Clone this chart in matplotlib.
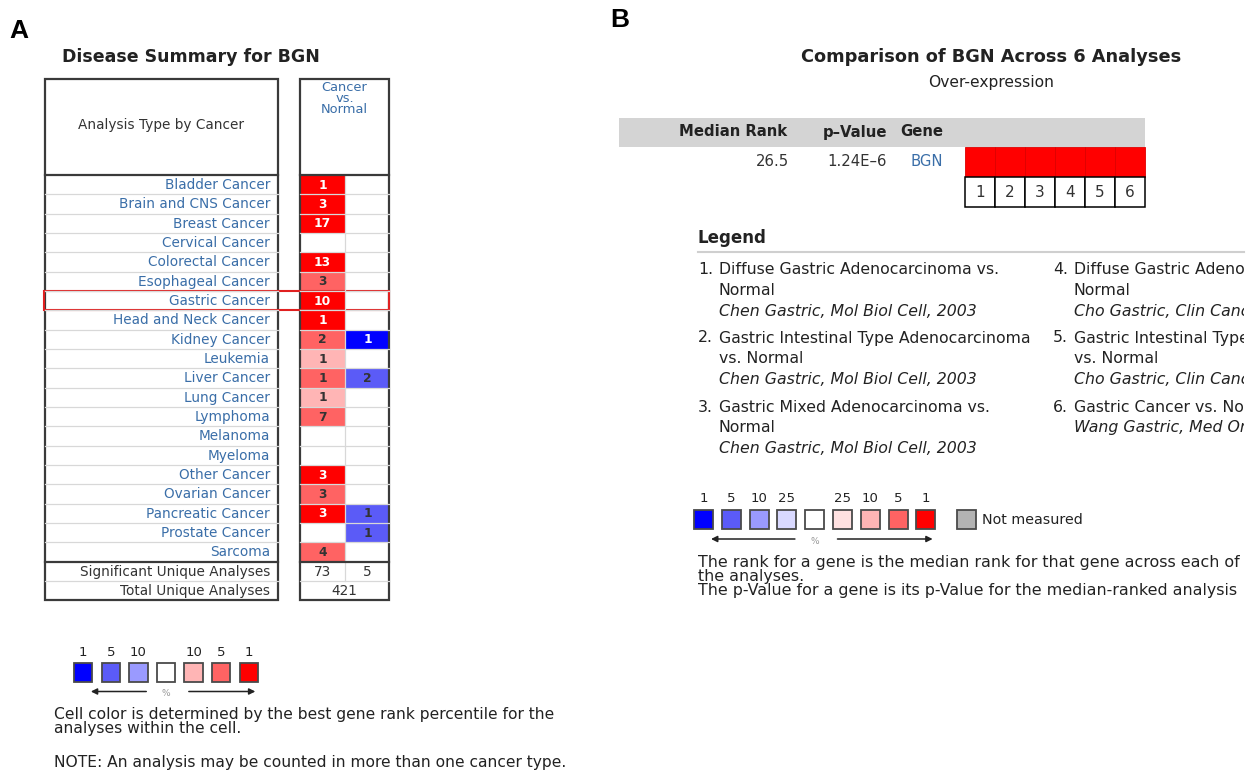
import matplotlib
matplotlib.use('Agg')

import matplotlib.pyplot as plt
from matplotlib.patches import Rectangle
from matplotlib.transforms import Bbox

plt.rcParams['font.family'] = ['DejaVu Sans']

# ---- A: disease summary ----
cancer_types = ['Bladder Cancer', 'Brain and CNS Cancer', 'Breast Cancer', 'Cervical Cancer',
                'Colorectal Cancer', 'Esophageal Cancer', 'Gastric Cancer', 'Head and Neck Cancer',
                'Kidney Cancer', 'Leukemia', 'Liver Cancer', 'Lung Cancer', 'Lymphoma',
                'Melanoma', 'Myeloma', 'Other Cancer', 'Ovarian Cancer', 'Pancreatic Cancer',
                'Prostate Cancer', 'Sarcoma']
up_counts = [1, 3, 17, 0, 13, 3, 10, 1, 2, 1, 1, 1, 7, 0, 0, 3, 3, 3, 0, 4]
up_pct = [1, 1, 1, 0, 1, 5, 1, 1, 5, 10, 5, 10, 5, 0, 0, 1, 5, 1, 0, 5]
down_counts = [0, 0, 0, 0, 0, 0, 0, 0, 1, 0, 2, 0, 0, 0, 0, 0, 0, 1, 1, 0]
down_pct = [0, 0, 0, 0, 0, 0, 0, 0, 1, 0, 5, 0, 0, 0, 0, 0, 0, 5, 5, 0]
significant = [73, 5]
total_unique = 421
highlight = 'Gastric Cancer'
legend_a_pct = [1, 5, 10, 0, 10, 5, 1]

# ---- B: comparison across analyses ----
median_rank = 26.5
p_value = '1.24E-6'
gene = 'BGN'
analysis_ids = [1, 2, 3, 4, 5, 6]
analysis_pct = [1, 1, 1, 1, 1, 1]
analysis_titles = [['Diffuse Gastric Adenocarcinoma vs.', 'Normal'],
                   ['Gastric Intestinal Type Adenocarcinoma', 'vs. Normal'],
                   ['Gastric Mixed Adenocarcinoma vs.', 'Normal'],
                   ['Diffuse Gastric Adenocarcinoma vs.', 'Normal'],
                   ['Gastric Intestinal Type Adenocarcinoma', 'vs. Normal'],
                   ['Gastric Cancer vs. Normal']]
analysis_refs = ['Chen Gastric, Mol Biol Cell, 2003', 'Chen Gastric, Mol Biol Cell, 2003',
                 'Chen Gastric, Mol Biol Cell, 2003', 'Cho Gastric, Clin Cancer Res, 2011',
                 'Cho Gastric, Clin Cancer Res, 2011', 'Wang Gastric, Med Oncol, 2012']
legend_b_pct = [1, 5, 10, 25, 0, 25, 10, 5, 1]

RED = {1: '#FF0000', 5: '#FF6363', 10: '#FFB5B5', 25: '#FFE1E1'}
BLUE = {1: '#0000FF', 5: '#5B5BF7', 10: '#9A9AFF', 25: '#D9D9FF'}
NAME_BLUE = '#3A6EA8'
DARK = '#222222'
TABLE_FS = 9.8


def cell_color(pct, up=True):
    if pct == 0:
        return 'white'
    return RED[pct] if up else BLUE[pct]


def color_key(ax, pcts, x0, y0, step, size, fs):
    # row of coloured squares: first half under-, second half over-expression
    half = len(pcts) // 2
    for i, p in enumerate(pcts):
        x = x0 + i * step
        fc = cell_color(p, up=i > half)
        ax.add_patch(Rectangle((x, y0), size, size, facecolor=fc,
                               edgecolor='#4a4a4a', lw=1.3))
        if p:
            ax.text(x + size / 2, y0 - 11, str(p), ha='center', va='center',
                    fontsize=fs, color=DARK)
    ya = y0 + size + 10
    xl = x0 + half * step + size / 2
    ax.annotate('', xy=(x0 + 0.8 * step - 8, ya), xytext=(xl - 17, ya),
                arrowprops=dict(arrowstyle='-|>', color=DARK, lw=1.1, mutation_scale=9))
    ax.annotate('', xy=(x0 + (len(pcts) - 1) * step + size, ya), xytext=(xl + 20, ya),
                arrowprops=dict(arrowstyle='-|>', color=DARK, lw=1.1, mutation_scale=9))
    ax.text(xl, ya + 2, '%', ha='center', va='center', fontsize=6.5, color='#999999')


fig = plt.figure(figsize=(12.49, 7.75), dpi=100)
ax = fig.add_axes([0, 0, 1, 1])
ax.set_xlim(0, 1249)
ax.set_ylim(775, 0)
ax.axis('off')

# ================= panel A =================
ax.text(9, 31, 'A', fontsize=19, fontweight='bold', family='Liberation Sans',
        ha='left', va='center', color='black')
ax.text(62, 57, 'Disease Summary for BGN', fontsize=12.5, fontweight='bold',
        ha='left', va='center', color=DARK)

lx0, lx1 = 45, 278
rx0, rxm, rx1 = 300, 345, 389
top, head = 79, 175
row_h = 19.33
n = len(cancer_types)
body_end = head + n * row_h
sig_end = body_end + row_h
tot_end = sig_end + row_h
grid = '#d8d8d8'

ax.text((lx0 + lx1) / 2, 125, 'Analysis Type by Cancer', fontsize=TABLE_FS,
        ha='center', va='center', color='#333333')
ax.text((rx0 + rx1) / 2, 81, 'Cancer\nvs.\nNormal', fontsize=9.4, ha='center', va='top',
        multialignment='center', linespacing=0.82, color=NAME_BLUE)

for i, name in enumerate(cancer_types):
    y = head + i * row_h
    yc = y + row_h / 2
    ax.text(lx1 - 8, yc + 0.5, name, fontsize=TABLE_FS, ha='right', va='center', color=NAME_BLUE)
    for xa, cnt, pct, up in [(rx0, up_counts[i], up_pct[i], True),
                             (rxm, down_counts[i], down_pct[i], False)]:
        if cnt:
            ax.add_patch(Rectangle((xa, y), rxm - rx0, row_h, facecolor=cell_color(pct, up),
                                   edgecolor='none'))
            tc = 'white' if pct == 1 else '#333333'
            ax.text(xa + (rxm - rx0) / 2, yc + 0.5, str(cnt), fontsize=8.8, fontweight='bold',
                    ha='center', va='center', color=tc)
    if i > 0:
        ax.plot([lx0, lx1], [y, y], color=grid, lw=0.9)
        ax.plot([rx0, rx1], [y, y], color=grid, lw=0.9)

# summary rows
ax.text(lx1 - 8, body_end + row_h / 2 + 0.5, 'Significant Unique Analyses', fontsize=TABLE_FS,
        ha='right', va='center', color='#333333')
ax.text(lx1 - 8, sig_end + row_h / 2 + 0.5, 'Total Unique Analyses', fontsize=TABLE_FS,
        ha='right', va='center', color='#333333')
for xa, v in zip([rx0, rxm], significant):
    ax.text(xa + (rxm - rx0) / 2, body_end + row_h / 2 + 0.5, str(v), fontsize=TABLE_FS,
            ha='center', va='center', color='#333333')
ax.text((rx0 + rx1) / 2, sig_end + row_h / 2 + 0.5, str(total_unique), fontsize=TABLE_FS,
        ha='center', va='center', color='#333333')
ax.plot([lx0, lx1], [sig_end, sig_end], color=grid, lw=0.9)
ax.plot([rx0, rx1], [sig_end, sig_end], color=grid, lw=0.9)
ax.plot([rxm, rxm], [head, sig_end], color=grid, lw=0.9)

# thick separators and box outlines
for xa, xb in [(lx0, lx1), (rx0, rx1)]:
    ax.plot([xa, xb], [head, head], color='#3a3a3a', lw=1.6)
    ax.plot([xa, xb], [body_end, body_end], color='#3a3a3a', lw=1.6)
    ax.add_patch(Rectangle((xa, top), xb - xa, tot_end - top, facecolor='none',
                           edgecolor='#3a3a3a', lw=1.6))

# highlighted row
hi = cancer_types.index(highlight)
ax.add_patch(Rectangle((lx0 - 1, head + hi * row_h), rx1 - lx0 + 1, row_h,
                       facecolor='none', edgecolor='#E02020', lw=1.5))

color_key(ax, legend_a_pct, 74, 663, 27.6, 18.5, 9.5)
ax.text(54, 715, 'Cell color is determined by the best gene rank percentile for the',
        fontsize=11.2, ha='left', va='center', color=DARK)
ax.text(54, 728, 'analyses within the cell.', fontsize=11.2, ha='left', va='center', color=DARK)
ax.text(54, 763, 'NOTE: An analysis may be counted in more than one cancer type.',
        fontsize=11.2, ha='left', va='center', color=DARK)

# ================= panel B =================
ax.text(610, 20, 'B', fontsize=19, fontweight='bold', family='Liberation Sans',
        ha='left', va='center', color='black')
ax.text(991, 57, 'Comparison of BGN Across 6 Analyses', fontsize=12.8, fontweight='bold',
        ha='center', va='center', color=DARK)
ax.text(991, 83, 'Over-expression', fontsize=11.2, ha='center', va='center', color=DARK)

cx0, cw = 965, 30
ax.add_patch(Rectangle((619, 118), cx0 + cw * len(analysis_ids) - 619, 29,
                       facecolor='#D4D4D4', edgecolor='none'))
ax.text(787, 132, 'Median Rank', fontsize=10.7, fontweight='bold', ha='right', va='center', color=DARK)
ax.text(887, 132, 'p\u2013Value', fontsize=10.7, fontweight='bold', ha='right', va='center', color=DARK)
ax.text(943, 132, 'Gene', fontsize=10.7, fontweight='bold', ha='right', va='center', color=DARK)
ax.text(789, 161, f'{median_rank}', fontsize=10.7, ha='right', va='center', color='#333333')
ax.text(887, 161, p_value.replace('-', '\u2013'), fontsize=10.7, ha='right', va='center',
        color='#333333')
ax.text(943, 161, gene, fontsize=10.7, ha='right', va='center', color=NAME_BLUE)

for i, (aid, pct) in enumerate(zip(analysis_ids, analysis_pct)):
    x = cx0 + i * cw
    ax.add_patch(Rectangle((x, 147), cw, 30, facecolor=cell_color(pct), edgecolor='#DD0000',
                           lw=0.6))
    ax.add_patch(Rectangle((x, 177), cw, 30, facecolor='white', edgecolor='black', lw=1.1))
    ax.text(x + cw / 2, 192.5, str(aid), fontsize=11, ha='center', va='center', color='#333333')

# analysis legend, clipped at the right edge
clip = Bbox.from_extents(0, 0, 1244, 775)
ax.text(698, 238, 'Legend', fontsize=12, fontweight='bold', ha='left', va='center', color=DARK)
ax.plot([698, 1244], [252, 252], color='#cfcfcf', lw=1.5)
col_x = [698, 1053]
row_y = [270, 338, 407]
line_h = 20.8
leg_fs = 11.3
for k, (title, ref) in enumerate(zip(analysis_titles, analysis_refs)):
    xn = col_x[k // 3]
    y = row_y[k % 3]
    texts = [ax.text(xn, y, f'{k + 1}.', fontsize=leg_fs, ha='left', va='center', color=DARK)]
    for j, line in enumerate(title):
        texts.append(ax.text(xn + 21, y + j * line_h, line, fontsize=leg_fs, ha='left',
                             va='center', color=DARK))
    texts.append(ax.text(xn + 21, y + len(title) * line_h, ref, fontsize=leg_fs, ha='left',
                         va='center', color=DARK, style='italic'))
    for t in texts:
        t.set_clip_box(clip)
        t.set_clip_on(True)

color_key(ax, legend_b_pct, 694, 510, 27.8, 19, 9.5)
ax.add_patch(Rectangle((957, 510), 19, 19, facecolor='#B3B3B3', edgecolor='#4a4a4a', lw=1.3))
ax.text(982, 519.5, 'Not measured', fontsize=10.3, ha='left', va='center', color=DARK)
ax.text(698, 563, 'The rank for a gene is the median rank for that gene across each of',
        fontsize=11.4, ha='left', va='center', color=DARK)
ax.text(698, 576, 'the analyses.', fontsize=11.4, ha='left', va='center', color=DARK)
ax.text(698, 590, 'The p-Value for a gene is its p-Value for the median-ranked analysis',
        fontsize=11.4, ha='left', va='center', color=DARK)

fig.savefig('out.png', dpi=100, facecolor='white')
